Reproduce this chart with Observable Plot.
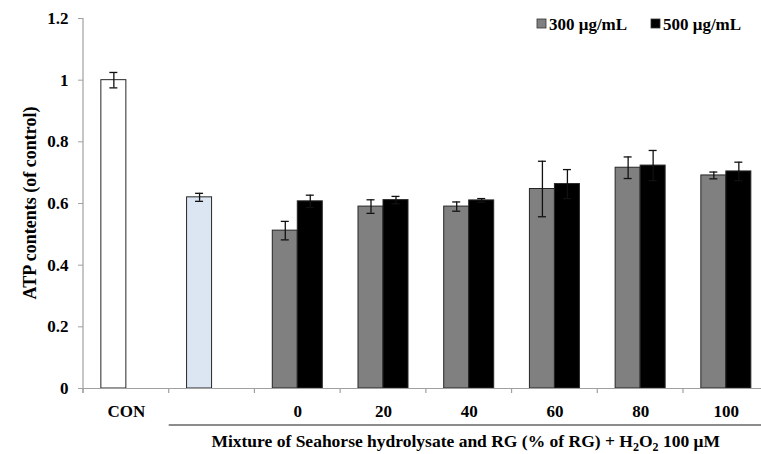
<!DOCTYPE html>
<html><head><meta charset="utf-8">
<script src="https://cdn.jsdelivr.net/npm/d3@7"></script>
<script src="https://cdn.jsdelivr.net/npm/@observablehq/plot@0.6"></script>
<style>body{margin:0;background:#fff;} svg{overflow:visible}</style>
</head><body><div id="chart"></div>
<script>
// ---- data ----
const groupKeys = ["CON", "H2O2", "0", "20", "40", "60", "80", "100"];
const groupLabels = ["CON", "", "0", "20", "40", "60", "80", "100"];
const seriesNames = ["300 μg/mL", "500 μg/mL"];
const conValue = 1.00, conErr = 0.025;
const h2o2Value = 0.62, h2o2Err = 0.013;
const rgGroups = ["0", "20", "40", "60", "80", "100"];
const values300 = [0.512, 0.590, 0.590, 0.647, 0.716, 0.691];
const errors300 = [0.030, 0.022, 0.015, 0.090, 0.035, 0.011];
const values500 = [0.607, 0.611, 0.610, 0.663, 0.723, 0.704];
const errors500 = [0.020, 0.012, 0.006, 0.047, 0.049, 0.030];
const yTicks = [0, 0.2, 0.4, 0.6, 0.8, 1, 1.2];
const yLabel = "ATP contents (of control)";

const rows = [
  {group: "CON", slot: "a", kind: "CON", value: conValue, err: conErr},
  {group: "H2O2", slot: "a", kind: "H2O2", value: h2o2Value, err: h2o2Err},
  ...rgGroups.map((g, i) => ({group: g, slot: "a", kind: "300", value: values300[i], err: errors300[i]})),
  ...rgGroups.map((g, i) => ({group: g, slot: "b", kind: "500", value: values500[i], err: errors500[i]}))
];

// ---- layout ----
const W = 761, H = 454, mLeft = 83, xRight = 768.7, mTop = 18, mBottom = 66;
const bw = (xRight - mLeft) / groupKeys.length;
const barW = 25;
const font = "'Liberation Serif','Times New Roman',serif";
const axisGray = "#a0a0a0";

const plot = Plot.plot({
  width: W, height: H,
  marginLeft: mLeft, marginRight: 0, marginTop: mTop, marginBottom: mBottom,
  style: {fontFamily: font, fontWeight: "bold", fontSize: "17px", color: "#000", background: "#fff", overflow: "visible"},
  fx: {domain: groupKeys, range: [mLeft, xRight], padding: 0, round: false, label: null, axis: null},
  x: {domain: ["a", "b"], paddingInner: 0, paddingOuter: (bw - 2 * barW) / (2 * barW), round: false, axis: null},
  y: {domain: [0, 1.2], axis: null},
  color: {domain: ["CON", "H2O2", "300", "500"], range: ["#ffffff", "#dce6f2", "#808080", "#000000"]},
  marks: [
    Plot.axisFx({anchor: "bottom", tickSize: 0, tickPadding: 16, label: null, fontSize: 17, fontWeight: "bold",
      tickFormat: k => groupLabels[groupKeys.indexOf(k)]}),
    Plot.axisY({ticks: yTicks, tickSize: 5, tickPadding: 10, stroke: axisGray, label: null,
      fontSize: 17, fontWeight: "bold", tickFormat: d => String(d)}),
    Plot.barY(rows, {fx: "group", x: "slot", y: "value", fill: "kind", stroke: "#262626", strokeWidth: 1}),
    Plot.ruleX(rows, {fx: "group", x: "slot", y1: d => d.value - d.err, y2: d => d.value + d.err, stroke: "#111", strokeWidth: 1.3}),
    Plot.tickY(rows, {fx: "group", x: "slot", y: d => d.value + d.err, insetLeft: 8.5, insetRight: 8.5, stroke: "#111", strokeWidth: 1.3}),
    Plot.tickY(rows, {fx: "group", x: "slot", y: d => d.value - d.err, insetLeft: 8.5, insetRight: 8.5, stroke: "#111", strokeWidth: 1.3}),
    Plot.ruleY([0], {stroke: axisGray, strokeWidth: 1.2})
  ]
});

document.getElementById("chart").appendChild(plot);

// ---- extras drawn with the plot's own scales ----
const svg = d3.select(plot);
const fxS = plot.scale("fx"), yS = plot.scale("y");
const fxA = v => fxS.apply ? fxS.apply(v) : d3.scaleBand(fxS.domain, fxS.range)(v);
const yA = v => yS.apply ? yS.apply(v) : d3.scaleLinear(yS.domain, yS.range)(v);
const y0 = yA(0), yTop = yA(1.2);
const g = svg.append("g").attr("text-anchor", "start");

// y axis line
g.append("line").attr("x1", mLeft).attr("x2", mLeft).attr("y1", yTop).attr("y2", y0 + 5)
  .attr("stroke", axisGray).attr("stroke-width", 1.2);
// category boundary ticks
groupKeys.forEach(k => {
  const x = fxA(k);
  g.append("line").attr("x1", x).attr("x2", x).attr("y1", y0).attr("y2", y0 + 5)
    .attr("stroke", axisGray).attr("stroke-width", 1.2);
});
// bracket line under RG groups
const xStart = fxA("H2O2");
const xEnd = fxA("100") + bw;
g.append("line").attr("x1", xStart).attr("x2", xEnd).attr("y1", y0 + 37).attr("y2", y0 + 37)
  .attr("stroke", "#666").attr("stroke-width", 1.6);
// x label with subscripts
const xl = g.append("text").attr("x", (xStart + xEnd) / 2 - 3).attr("y", y0 + 59)
  .attr("text-anchor", "middle").attr("font-family", font).attr("font-weight", "bold").attr("font-size", 17.5);
xl.append("tspan").text("Mixture of Seahorse hydrolysate and RG (% of RG) + H");
xl.append("tspan").attr("dy", 4).attr("font-size", 12).text("2");
xl.append("tspan").attr("dy", -4).text("O");
xl.append("tspan").attr("dy", 4).attr("font-size", 12).text("2");
xl.append("tspan").attr("dy", -4).text(" 100 μM");
// y label
g.append("text").attr("transform", `translate(36,${(yTop + y0) / 2}) rotate(-90)`)
  .attr("text-anchor", "middle").attr("font-family", font).attr("font-weight", "bold").attr("font-size", 18)
  .text(yLabel);
// legend
const legColors = ["#808080", "#000000"];
const legX = [537, 651];
seriesNames.forEach((s, i) => {
  g.append("rect").attr("x", legX[i]).attr("y", 19).attr("width", 9).attr("height", 9)
    .attr("fill", legColors[i]).attr("stroke", "#333").attr("stroke-width", 0.8);
  g.append("text").attr("x", legX[i] + 12).attr("y", 29.5).attr("text-anchor", "start").attr("font-family", font)
    .attr("font-weight", "bold").attr("font-size", 17).text(s);
});
</script>
</body></html>
